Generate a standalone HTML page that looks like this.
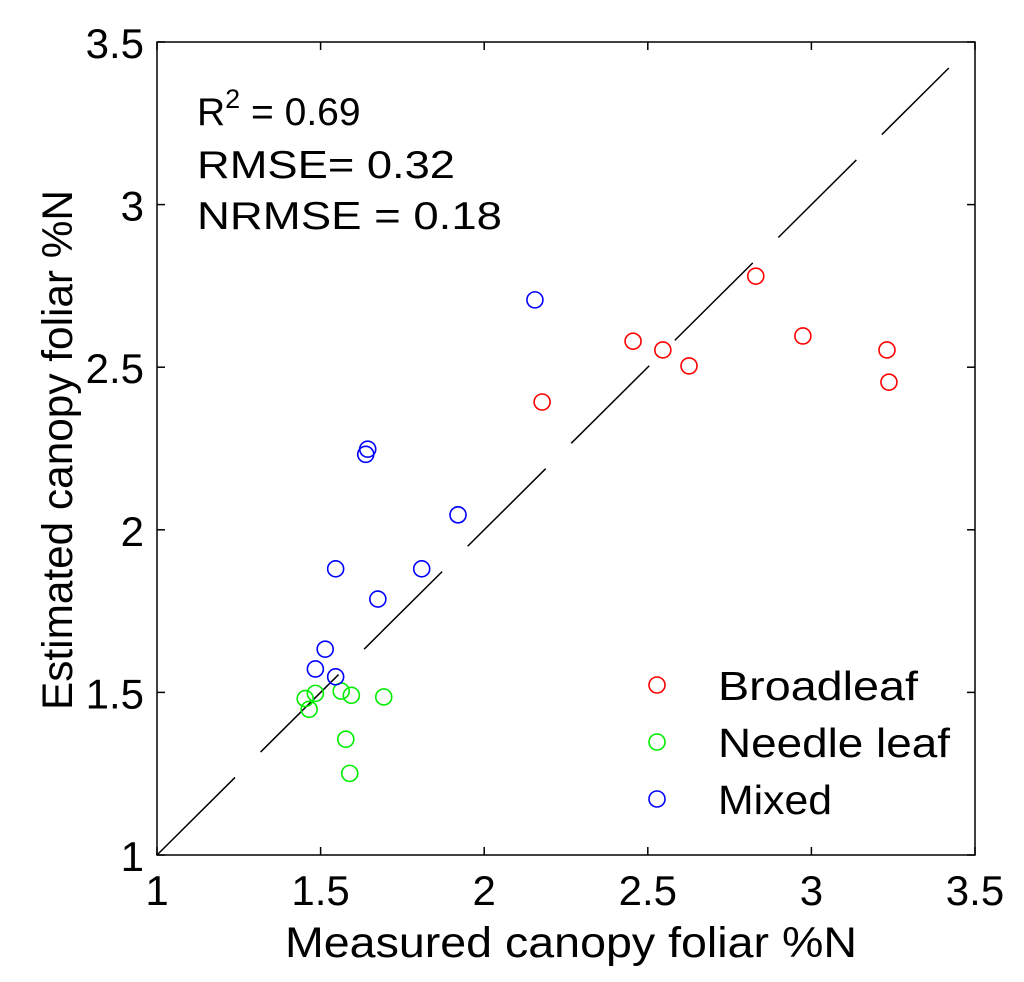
<!DOCTYPE html>
<html><head><meta charset="utf-8"><style>
body{margin:0;background:#fff;}
svg text{font-family:"Liberation Sans",Arial,sans-serif;fill:#000;}
</style></head><body>
<svg id="chart" width="1024" height="977" xmlns="http://www.w3.org/2000/svg">
<g id="axes"></g><g id="marks"></g>
</svg>
<script>
const ticks=[1,1.5,2,2.5,3,3.5];
const tickLabels=["1","1.5","2","2.5","3","3.5"];
const broadX=[2.83,2.455,2.546,2.626,2.974,3.231,3.237,2.177];
const broadY=[2.78,2.58,2.553,2.504,2.596,2.553,2.454,2.393];
const needleX=[1.484,1.453,1.465,1.563,1.594,1.693,1.577,1.589];
const needleY=[1.497,1.481,1.448,1.504,1.491,1.486,1.356,1.251];
const mixedX=[2.155,1.644,1.638,1.920,1.546,1.809,1.675,1.514,1.484,1.546];
const mixedY=[2.707,2.248,2.232,2.046,1.880,1.880,1.787,1.633,1.572,1.548];
const L=157,R=975,T=42,B=855;
const sx=v=>L+(v-1)/2.5*(R-L), sy=v=>B-(v-1)/2.5*(B-T);
const NS="http://www.w3.org/2000/svg";
function mk(p,tag,a,txt){const e=document.createElementNS(NS,tag);for(const k in a)e.setAttribute(k,a[k]);if(txt!==undefined)e.textContent=txt;p.appendChild(e);return e;}
const ax=document.getElementById('axes'),mg=document.getElementById('marks');
let f=mk(ax,'rect',{x:L,y:T,width:R-L,height:B-T,fill:'none',stroke:'#000','stroke-width':1.5});


ticks.forEach((t,i)=>{
 const x=sx(t),y=sy(t);
 [[x,B,x,B-8],[x,T,x,T+8],[L,y,L+8,y],[R,y,R-8,y]].forEach(c=>{mk(ax,'line',{x1:c[0],y1:c[1],x2:c[2],y2:c[3],stroke:'#000','stroke-width':1.5});});
 let tx=mk(ax,'text',{x:x,y:905,'font-size':42,'text-anchor':'middle'},tickLabels[i]);
 
 
 let ty=mk(ax,'text',{x:144,y:y+16,'font-size':42,'text-anchor':'end'},tickLabels[i]);
 
 
});
let xl=mk(ax,'text',{x:285,y:957,'font-size':43,textLength:572,lengthAdjust:'spacingAndGlyphs'},'Measured canopy foliar %N');


let yl=mk(ax,'text',{x:-260,y:0,'font-size':43,textLength:520,lengthAdjust:'spacingAndGlyphs',transform:'translate(72,450) rotate(-90)'},'Estimated canopy foliar %N');


let dl=mk(mg,'line',{x1:sx(1),y1:sy(1),x2:sx(3.42),y2:sy(3.42),stroke:'#000','stroke-width':1.5,'stroke-dasharray':'110 36'});


function series(xs,ys,col,name){xs.forEach((v,i)=>{let c=mk(mg,'circle',{cx:sx(v),cy:sy(ys[i]),r:8,fill:'none',stroke:col,'stroke-width':1.6});
 
 });}
series(broadX,broadY,'#ff0000','broadleaf');
series(needleX,needleY,'#00ee00','needle-leaf');
series(mixedX,mixedY,'#0000ff','mixed');
let s1=mk(ax,'text',{x:197,y:125,'font-size':39});s1.innerHTML='R<tspan dy="-17" font-size="27">2</tspan><tspan dy="17"> = 0.69</tspan>';


let s2=mk(ax,'text',{x:197,y:178,'font-size':39,textLength:258,lengthAdjust:'spacingAndGlyphs'},'RMSE= 0.32');


let s3=mk(ax,'text',{x:197,y:229,'font-size':39,textLength:305,lengthAdjust:'spacingAndGlyphs'},'NRMSE = 0.18');


const legNames=['Broadleaf','Needle leaf','Mixed'],legCols=['#ff0000','#00ee00','#0000ff'],legKeys=['broadleaf','needle-leaf','mixed'],legW=[200,232,114];
legNames.forEach((n,i)=>{const y=685+i*57;
 let g=mk(ax,'g',{});
 
 
 mk(g,'circle',{cx:657,cy:y,r:8,fill:'none',stroke:legCols[i],'stroke-width':1.6});
 mk(g,'text',{x:718,y:y+15,'font-size':41,textLength:legW[i],lengthAdjust:'spacingAndGlyphs'},n);
});
</script>
</body></html>
